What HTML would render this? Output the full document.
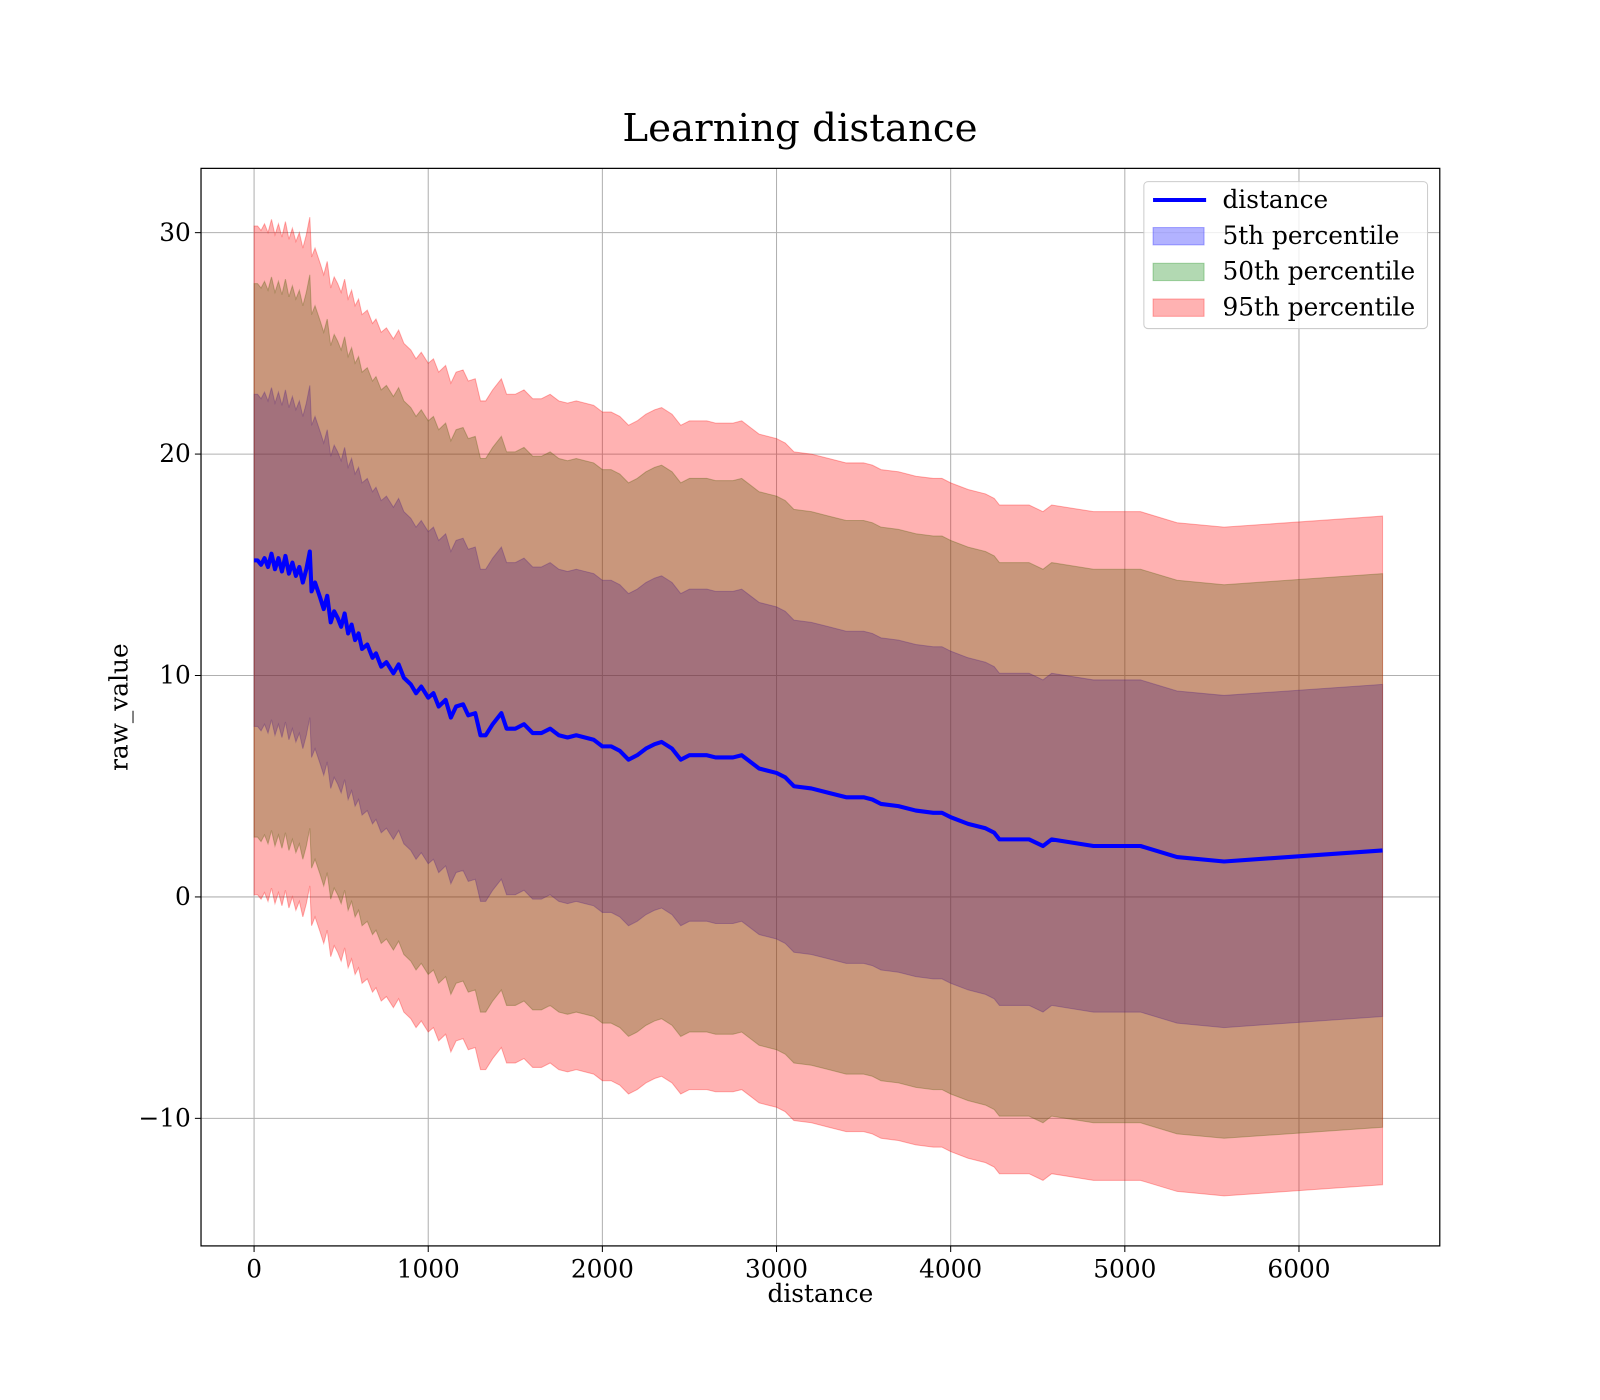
<!DOCTYPE html>
<html><head><meta charset="utf-8"><style>
html,body{margin:0;padding:0;background:#fff}
svg{display:block;font-family:"DejaVu Serif","Liberation Serif",serif}
</style></head><body>
<svg id="chart" width="1600" height="1400" viewBox="0 0 1600 1400"><g id="root" transform="scale(1.0204)"></g></svg>
<script>
const xs=[0,20,40,60,80,100,120,140,160,180,200,220,240,260,280,300,320,330,350,380,400,420,440,460,480,500,520,540,560,580,600,620,650,680,700,730,760,800,830,860,900,930,960,1000,1030,1060,1100,1130,1160,1200,1230,1270,1300,1330,1370,1420,1450,1500,1550,1600,1650,1700,1750,1800,1850,1900,1950,2000,2050,2100,2150,2200,2250,2300,2340,2400,2450,2500,2550,2600,2650,2700,2750,2800,2850,2900,2950,3000,3050,3100,3200,3300,3400,3500,3550,3600,3700,3800,3900,3950,4000,4100,4200,4250,4280,4450,4530,4580,4820,5090,5300,5570,6480];
const ys=[15.2,15.2,15.0,15.3,14.9,15.5,14.8,15.3,14.7,15.4,14.6,15.1,14.5,14.9,14.2,14.8,15.6,13.8,14.2,13.5,13.0,13.6,12.4,12.9,12.6,12.2,12.8,11.9,12.3,11.6,11.9,11.2,11.4,10.8,11.0,10.4,10.6,10.1,10.5,9.9,9.6,9.2,9.5,9.0,9.2,8.6,8.9,8.1,8.6,8.7,8.2,8.3,7.3,7.3,7.8,8.3,7.6,7.6,7.8,7.4,7.4,7.6,7.3,7.2,7.3,7.2,7.1,6.8,6.8,6.6,6.2,6.4,6.7,6.9,7.0,6.7,6.2,6.4,6.4,6.4,6.3,6.3,6.3,6.4,6.1,5.8,5.7,5.6,5.4,5.0,4.9,4.7,4.5,4.5,4.4,4.2,4.1,3.9,3.8,3.8,3.6,3.3,3.1,2.9,2.6,2.6,2.3,2.6,2.3,2.3,1.8,1.6,2.1];
const bandNames=["5th percentile","50th percentile","95th percentile"];
const bandOffsets=[7.5,12.5,15.1];
const bandColors=["#0000ff","#008000","#ff0000"];
const xTicks=[0,1000,2000,3000,4000,5000,6000];
const yTicks=[-10,0,10,20,30];

const L=197,R=1411,T=165,B=1221;
const FS=24.3;
const X=v=>249+v*(1273-249)/6000;
const Y=v=>879-v*(879-228)/30;
const svg=document.getElementById('root');
const NS='http://www.w3.org/2000/svg';
function mk(tag,attrs,parent){const e=document.createElementNS(NS,tag);for(const k in attrs)e.setAttribute(k,attrs[k]);(parent||svg).appendChild(e);return e;}

xTicks.forEach(t=>{const g=mk('line',{x1:X(t),x2:X(t),y1:T,y2:B,stroke:'#b0b0b0','stroke-width':1});
});
yTicks.forEach(t=>{const g=mk('line',{x1:L,x2:R,y1:Y(t),y2:Y(t),stroke:'#b0b0b0','stroke-width':1});
});

bandOffsets.forEach((o,i)=>{
  let d='M'+xs.map((x,j)=>X(x)+','+Y(ys[j]+o)).join('L');
  for(let j=xs.length-1;j>=0;j--)d+='L'+X(xs[j])+','+Y(ys[j]-o);
  d+='Z';
  const p=mk('path',{d:d,fill:bandColors[i],'fill-opacity':0.3,stroke:bandColors[i],'stroke-opacity':0.3});
  
  
});
const ln=mk('polyline',{points:xs.map((x,j)=>X(x)+','+Y(ys[j])).join(' '),fill:'none',stroke:'#0000ff','stroke-width':4,'stroke-linejoin':'round'});



const fr=mk('rect',{x:L,y:T,width:R-L,height:B-T,fill:'none',stroke:'#000','stroke-width':1.2});


xTicks.forEach(t=>{mk('line',{x1:X(t),x2:X(t),y1:B,y2:B+6,stroke:'#000'});
const tx=mk('text',{x:X(t),y:B+31,'text-anchor':'middle','font-size':FS});tx.textContent=t;
});
yTicks.forEach(t=>{mk('line',{x1:L-6,x2:L,y1:Y(t),y2:Y(t),stroke:'#000'});
const tx=mk('text',{x:L-10,y:Y(t)+8,'text-anchor':'end','font-size':FS});tx.textContent=t<0?'\u2212'+(-t):t;
});

let t=mk('text',{x:784,y:138,'text-anchor':'middle','font-size':38});t.textContent='Learning distance';

t=mk('text',{x:804,y:1276,'text-anchor':'middle','font-size':FS});t.textContent='distance';

t=mk('text',{x:125,y:693,'text-anchor':'middle','font-size':FS,transform:'rotate(-90 125 693)'});t.textContent='raw_value';


const lg=mk('g',{});
mk('rect',{x:1121,y:178,width:278,height:144,rx:4,fill:'#fff','fill-opacity':0.8,stroke:'#ccc'},lg);
mk('line',{x1:1130,x2:1182,y1:196,y2:196,stroke:'#0000ff','stroke-width':4},lg);
t=mk('text',{x:1198,y:204,'font-size':FS},lg);t.textContent='distance';

bandNames.forEach((n,i)=>{const y=231+i*35;
mk('rect',{x:1130,y:y-8,width:50,height:17,fill:bandColors[i],'fill-opacity':0.3,stroke:bandColors[i],'stroke-opacity':0.3},lg);
const tt=mk('text',{x:1198,y:y+8,'font-size':FS},lg);tt.textContent=n;
});
</script>
</body></html>
